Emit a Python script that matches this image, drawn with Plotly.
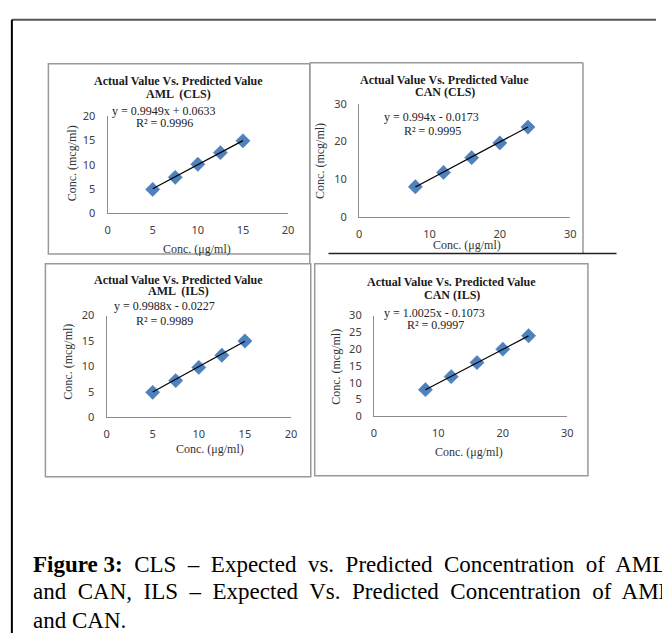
import plotly.graph_objects as go

W, H = 662, 640

# ---------------- data ----------------
conc_aml = [5, 7.5, 10, 12.5, 15]
pred_aml_cls = [4.9, 7.4, 10.1, 12.5, 14.95]
pred_aml_ils = [4.9, 7.2, 9.8, 12.2, 15.0]
conc_can = [8, 12, 16, 20, 24]
pred_can_cls = [8.0, 11.8, 15.7, 19.6, 23.8]
pred_can_ils = [7.9, 11.8, 16.0, 20.0, 24.0]

slopes = [0.9949, 0.994, 0.9988, 1.0025]
intercepts = [0.0633, -0.0173, -0.0227, -0.1073]
r2_values = [0.9996, 0.9995, 0.9989, 0.9997]
subtitles = ["AML  (CLS)", "CAN (CLS)", "AML  (ILS)", "CAN (ILS)"]
main_title = "Actual Value Vs. Predicted Value"
x_title = "Conc. (μg/ml)"
y_title = "Conc. (mcg/ml)"
x_max = [20, 30, 20, 30]
y_max = [20, 30, 20, 30]
x_dtick = [5, 10, 5, 10]
y_dtick = [5, 10, 5, 5]
caption_lines = [
    "<b>Figure 3:</b>  CLS  –  Expected  vs.  Predicted  Concentration  of  AML",
    "and  CAN,  ILS  –  Expected  Vs.  Predicted  Concentration  of  AML",
    "and CAN.",
]

series_x = [conc_aml, conc_can, conc_aml, conc_can]
series_y = [pred_aml_cls, pred_can_cls, pred_aml_ils, pred_can_ils]

# ---------------- layout geometry (pixels) ----------------
geo = [
    dict(frame=(46, 57, 311, 252), ax=(106, 289, 210, 111), title=(178, 75, 88),
         eq=(163, 105), r2=(164, 118), xt=(197, 247), yt=(70, 159)),
    dict(frame=(311, 56, 588, 251), ax=(361, 575, 214, 98), title=(448, 74, 86),
         eq=(434, 112), r2=(435, 126), xt=(470, 243), yt=(322, 157)),
    dict(frame=(43, 262, 312, 480), ax=(105, 292, 419, 315), title=(178, 279, 290),
         eq=(164, 305), r2=(164, 320), xt=(210, 452), yt=(65, 362)),
    dict(frame=(316, 262, 593, 479), ax=(376, 572, 418, 315), title=(455, 281, 294),
         eq=(437, 312), r2=(438, 325), xt=(472, 455), yt=(338, 367)),
]
caption_y = [570, 598, 627]

def fx(px):
    return px / W

def fy(py):
    return 1 - py / H

SERIF = "Liberation Serif"
SANS = "Noto Sans"
fig = go.Figure()
shapes = []
annotations = []

for i in range(4):
    g = geo[i]
    xa = "x" if i == 0 else f"x{i+1}"
    ya = "y" if i == 0 else f"y{i+1}"
    xs, ys = series_x[i], series_y[i]
    fig.add_trace(go.Scatter(
        x=xs, y=ys, mode="markers", xaxis=xa, yaxis=ya,
        marker=dict(symbol="diamond", size=11, color="#4F81BD",
                    line=dict(width=0.5, color="#4A7EBB")),
        showlegend=False, hoverinfo="skip"))
    tx = [min(xs), max(xs)]
    ty = [slopes[i] * v + intercepts[i] for v in tx]
    fig.add_trace(go.Scatter(
        x=tx, y=ty, mode="lines", xaxis=xa, yaxis=ya,
        line=dict(color="#000000", width=1.2),
        showlegend=False, hoverinfo="skip"))

    x0, x1, y0, y1 = g["ax"]
    axis_common = dict(showgrid=False, zeroline=False, showline=True,
                       linecolor="#8C8C8C", linewidth=1, ticks="",
                       tickfont=dict(family=SANS, size=11, color="#404040"))
    layout_x = dict(domain=[fx(x0), fx(x1)], range=[0, x_max[i]], dtick=x_dtick[i],
                    tick0=0, anchor=ya, ticklabelstandoff=7, **axis_common)
    layout_y = dict(domain=[fy(y0), fy(y1)], range=[0, y_max[i]], dtick=y_dtick[i],
                    tick0=0, anchor=xa, ticklabelstandoff=9, **axis_common)
    key_x = "xaxis" if i == 0 else f"xaxis{i+1}"
    key_y = "yaxis" if i == 0 else f"yaxis{i+1}"
    fig.update_layout({key_x: layout_x, key_y: layout_y})

    # frame
    l, t, r, b = g["frame"]
    if i == 1:
        for (a, c, d, e) in [(l, t, r, t), (l, t, l, b), (r, t, r, b)]:
            shapes.append(dict(type="line", xref="paper", yref="paper",
                               x0=fx(a), y0=fy(c), x1=fx(d), y1=fy(e),
                               line=dict(color="#9A9A9A", width=1.5)))
    else:
        shapes.append(dict(type="rect", xref="paper", yref="paper",
                           x0=fx(l), y0=fy(t), x1=fx(r), y1=fy(b),
                           line=dict(color="#9A9A9A", width=1.5)))

    # titles
    cx, ty1, ty2 = g["title"]
    annotations.append(dict(text=f"<b>{main_title}</b>", x=fx(cx), y=fy(ty1),
                            xref="paper", yref="paper", showarrow=False,
                            xanchor="center", yanchor="middle",
                            font=dict(family=SERIF, size=12, color="#1a1a1a")))
    annotations.append(dict(text=f"<b>{subtitles[i]}</b>", x=fx(cx), y=fy(ty2),
                            xref="paper", yref="paper", showarrow=False,
                            xanchor="center", yanchor="middle",
                            font=dict(family=SERIF, size=12, color="#1a1a1a")))
    sign = "+" if intercepts[i] >= 0 else "-"
    eq = f"y = {slopes[i]}x {sign} {abs(intercepts[i])}"
    annotations.append(dict(text=eq, x=fx(g["eq"][0]), y=fy(g["eq"][1]),
                            xref="paper", yref="paper", showarrow=False,
                            xanchor="center", yanchor="middle",
                            font=dict(family=SERIF, size=12, color="#222222")))
    annotations.append(dict(text=f"R² = {r2_values[i]}", x=fx(g["r2"][0]), y=fy(g["r2"][1]),
                            xref="paper", yref="paper", showarrow=False,
                            xanchor="center", yanchor="middle",
                            font=dict(family=SERIF, size=12, color="#222222")))
    annotations.append(dict(text=x_title, x=fx(g["xt"][0]), y=fy(g["xt"][1]),
                            xref="paper", yref="paper", showarrow=False,
                            xanchor="center", yanchor="middle",
                            font=dict(family=SERIF, size=12, color="#333333")))
    annotations.append(dict(text=y_title, x=fx(g["yt"][0]), y=fy(g["yt"][1]),
                            xref="paper", yref="paper", showarrow=False,
                            xanchor="center", yanchor="middle", textangle=-90,
                            font=dict(family=SERIF, size=12, color="#333333")))

# extra separator lines
shapes.append(dict(type="line", xref="paper", yref="paper",
                   x0=fx(330), y0=fy(251.5), x1=fx(622), y1=fy(251.5),
                   line=dict(color="#222222", width=1.5)))
shapes.append(dict(type="line", xref="paper", yref="paper",
                   x0=fx(311), y0=fy(252), x1=fx(311), y1=fy(262),
                   line=dict(color="#9A9A9A", width=1.5)))
# outer border
shapes.append(dict(type="line", xref="paper", yref="paper",
                   x0=fx(9), y0=fy(12), x1=fx(662), y1=fy(12),
                   line=dict(color="#555555", width=2)))
shapes.append(dict(type="line", xref="paper", yref="paper",
                   x0=fx(9), y0=fy(12), x1=fx(9), y1=fy(640),
                   line=dict(color="#000000", width=2)))

# caption (justified text approximated by widened word spacing)
for line, yy in zip(caption_lines, caption_y):
    annotations.append(dict(text=line, x=fx(28), y=fy(yy), xref="paper", yref="paper",
                            showarrow=False, xanchor="left", yanchor="middle",
                            font=dict(family=SERIF, size=23, color="#000000")))

fig.update_layout(width=W, height=H, margin=dict(l=0, r=0, t=0, b=0),
                  paper_bgcolor="white", plot_bgcolor="white",
                  shapes=shapes, annotations=annotations, showlegend=False)

fig.write_html("out.html", config={"displayModeBar": False},
               post_script="document.body.style.margin='0px';document.body.style.overflow='hidden';")
